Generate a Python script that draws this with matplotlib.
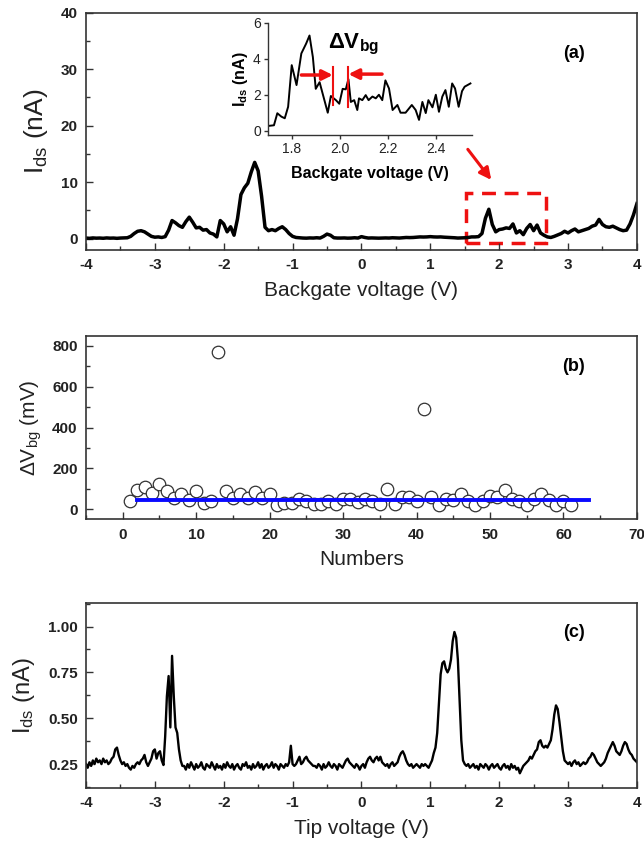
import numpy as np
import matplotlib
matplotlib.use('Agg')
import matplotlib.pyplot as plt
from matplotlib.ticker import MultipleLocator
from matplotlib.patches import Rectangle

plt.rcParams['font.family'] = ['Liberation Sans', 'DejaVu Sans']
plt.rcParams['mathtext.fontset'] = 'custom'
plt.rcParams['mathtext.rm'] = 'Liberation Sans'
plt.rcParams['mathtext.it'] = 'Liberation Sans:italic'
plt.rcParams['mathtext.bf'] = 'Liberation Sans:bold'
plt.rcParams['axes.unicode_minus'] = False

# ---------------- Panel (a): backgate sweep, Ids (nA), 0.05 V steps from -4 to 4 ----------------
backgate_ids = [
    0.10, 0.05, 0.12, 0.08, 0.10, 0.06, 0.12, 0.08, 0.10, 0.05, 0.10, 0.12, 0.15,
    0.4, 0.9, 1.3, 1.4, 1.2, 0.8, 0.4, 0.25, 0.3, 0.2, 0.35,
    1.5, 3.2, 2.8, 2.3, 2.0, 3.0, 3.8, 2.9, 1.9, 2.0, 1.5, 1.6, 1.0, 0.8, 0.3,
    3.2, 2.6, 1.2, 2.1, 0.6, 3.5, 7.8, 9.0, 9.8, 11.8, 13.5, 12.0, 7.5, 2.0, 1.4,
    1.6, 1.4, 1.8, 2.1, 1.6, 0.9, 0.4, 0.2,
    0.15, 0.10, 0.08, 0.12, 0.10, 0.15, 0.10,
    0.4, 0.8, 0.6, 0.15, 0.1,
    0.10, 0.12, 0.08, 0.10, 0.15, 0.10,
    0.35, 0.2, 0.1, 0.12, 0.1, 0.08, 0.1, 0.12, 0.1, 0.15,
    0.12, 0.1, 0.15, 0.2, 0.18, 0.2, 0.25, 0.3, 0.28, 0.3,
    0.35, 0.3, 0.28, 0.3, 0.25, 0.22, 0.2, 0.15, 0.1, 0.12, 0.15,
    0.2, 0.3, 0.3, 0.35, 0.9, 3.6, 5.2, 2.5, 1.2, 1.6,
    1.7, 1.9, 1.8, 2.6, 1.0, 1.4, 0.7, 1.8, 2.5, 1.4,
    2.4, 1.0, 0.6, 0.3, 0.2, 0.4, 0.65, 0.9, 1.3, 1.0,
    1.4, 1.7, 1.2, 1.4, 1.6, 1.8, 2.2, 2.4, 3.4, 2.5,
    2.1, 2.0, 2.2, 1.9, 1.6, 1.4, 1.5, 2.6, 4.2, 6.2,
]
backgate_v = np.linspace(-4, 4, len(backgate_ids))

# inset (zoom of 1.7-2.55 V)
inset_v = [1.700, 1.726, 1.740, 1.757, 1.771, 1.785, 1.800, 1.820, 1.840, 1.860,
           1.874, 1.888, 1.900, 1.916, 1.936, 1.950, 1.963, 1.984, 1.998, 2.012,
           2.025, 2.036, 2.046, 2.060, 2.073, 2.080, 2.094, 2.108, 2.120, 2.136,
           2.150, 2.163, 2.177, 2.190, 2.205, 2.220, 2.240, 2.253, 2.274, 2.300,
           2.316, 2.330, 2.344, 2.358, 2.369, 2.386, 2.400, 2.413, 2.427, 2.440,
           2.454, 2.468, 2.480, 2.495, 2.509, 2.520, 2.544]
inset_i = [0.26, 0.30, 0.97, 0.78, 0.69, 1.33, 3.65, 2.54, 4.30, 4.85,
           5.30, 4.10, 2.33, 2.70, 1.70, 1.00, 1.93, 1.70, 1.50, 2.33,
           2.30, 2.87, 1.60, 1.70, 1.15, 1.80, 1.70, 1.98, 1.70, 1.90,
           1.80, 2.00, 1.70, 2.80, 2.35, 1.15, 1.43, 1.00, 1.00, 1.43,
           1.15, 0.60, 1.60, 0.98, 1.70, 1.30, 2.00, 1.05, 1.90, 2.26,
           1.33, 2.63, 2.35, 1.33, 2.20, 2.45, 2.63]

# ---------------- Panel (b): Delta V_bg (mV) vs number ----------------
numbers = list(range(1, 62))
delta_vbg = [39, 92, 108, 80, 121, 90, 56, 74, 47, 90,
             29, 39, 772, 90, 56, 74, 56, 82, 56, 72,
             18, 31, 31, 51, 39, 26, 26, 39, 26, 51,
             51, 34, 51, 39, 26, 98, 26, 62, 59, 39,
             489, 59, 18, 51, 46, 72, 39, 18, 39, 64,
             59, 92, 51, 39, 18, 51, 72, 46, 18, 39, 21]
fit_n = [2, 63.5]
fit_dv = [45, 45]

# ---------------- Panel (c): tip sweep, Ids (nA), 0.025 V steps from -4 to 4 ----------------
tip_ids = [
    0.25, 0.23, 0.26, 0.24, 0.27, 0.25, 0.28, 0.26, 0.27, 0.25, 0.28, 0.26, 0.27, 0.25, 0.26, 0.28,
    0.29, 0.33, 0.34, 0.30, 0.27,
    0.25, 0.26, 0.24, 0.25, 0.23, 0.22, 0.24, 0.23, 0.25, 0.26, 0.25, 0.27,
    0.28, 0.30, 0.26, 0.24, 0.26, 0.28, 0.32, 0.33, 0.28, 0.31, 0.32, 0.27, 0.245,
    0.40, 0.62, 0.73, 0.45, 0.84, 0.62, 0.45, 0.42, 0.33, 0.27, 0.24,
    0.24, 0.22, 0.25, 0.23, 0.26, 0.24, 0.22, 0.25, 0.23, 0.24,
    0.26, 0.23, 0.22, 0.25, 0.24, 0.23, 0.26, 0.24, 0.22, 0.25,
    0.23, 0.24, 0.22, 0.25, 0.23, 0.26, 0.24, 0.23, 0.25, 0.22,
    0.24, 0.25, 0.23, 0.22, 0.25, 0.24, 0.26, 0.23, 0.24, 0.22,
    0.25, 0.23, 0.24, 0.26, 0.23, 0.25, 0.22, 0.24, 0.25, 0.23,
    0.24, 0.26, 0.23, 0.25, 0.24, 0.22, 0.25, 0.24, 0.23, 0.25,
    0.24, 0.26,
    0.35, 0.25, 0.24, 0.25, 0.27, 0.29, 0.25, 0.26, 0.28, 0.29, 0.27, 0.26, 0.25, 0.24,
    0.24, 0.23, 0.25, 0.24, 0.22, 0.25, 0.23, 0.24, 0.26, 0.24, 0.23, 0.25, 0.24, 0.22,
    0.25, 0.24, 0.23, 0.25,
    0.27, 0.28, 0.26, 0.25,
    0.24, 0.23, 0.25, 0.24, 0.22, 0.24, 0.25, 0.23,
    0.26, 0.28, 0.29, 0.27, 0.26, 0.28, 0.29, 0.27, 0.29, 0.26, 0.25,
    0.24, 0.25, 0.23, 0.25, 0.26, 0.24, 0.25,
    0.26, 0.29, 0.31, 0.32, 0.30, 0.27, 0.25,
    0.24, 0.25, 0.23, 0.24, 0.25, 0.24, 0.23, 0.25, 0.24, 0.25, 0.24, 0.23, 0.25,
    0.27, 0.31, 0.34, 0.42, 0.58, 0.74, 0.80, 0.81, 0.77, 0.75,
    0.77, 0.82, 0.92, 0.97, 0.94, 0.82, 0.60, 0.38, 0.27, 0.25,
    0.24, 0.25, 0.23, 0.24, 0.25, 0.23, 0.24, 0.22, 0.25, 0.24,
    0.23, 0.25, 0.24, 0.22, 0.24, 0.25, 0.23, 0.24, 0.25, 0.23,
    0.22, 0.24, 0.25, 0.23, 0.24, 0.22, 0.25, 0.23, 0.24, 0.22,
    0.23, 0.20, 0.22, 0.24,
    0.25, 0.26, 0.27, 0.29, 0.28, 0.30, 0.32, 0.33, 0.37, 0.38,
    0.35, 0.34, 0.35, 0.34, 0.36, 0.38, 0.44, 0.52, 0.57, 0.55,
    0.48, 0.40, 0.32, 0.27, 0.26,
    0.25, 0.26, 0.24, 0.26, 0.27, 0.25, 0.26, 0.24, 0.25, 0.26, 0.25, 0.26, 0.28,
    0.29, 0.31, 0.30, 0.28, 0.26, 0.25, 0.24, 0.25, 0.26, 0.28,
    0.31, 0.33, 0.35, 0.37, 0.35, 0.32, 0.31, 0.30, 0.32, 0.35,
    0.37, 0.36, 0.33, 0.31, 0.30, 0.28, 0.27, 0.26,
]
tip_v = np.linspace(-4, 4, len(tip_ids))

# ---------------- Figure ----------------
fig = plt.figure(figsize=(6.44, 8.5), dpi=100)
axa = fig.add_axes([0.1335, 0.706, 0.8555, 0.279])
axb = fig.add_axes([0.1335, 0.389, 0.8555, 0.216])
axc = fig.add_axes([0.1335, 0.073, 0.8555, 0.218])
ins = fig.add_axes([0.4157, 0.841, 0.317, 0.132])

SPINE = '#333333'


def style(ax):
    ax.tick_params(which='both', direction='in', top=False, right=False, colors=SPINE)
    ax.tick_params(which='major', length=5, width=1, labelsize=11, pad=6, labelcolor='#222222')
    ax.tick_params(which='minor', length=3, width=1)
    for s in ax.spines.values():
        s.set_linewidth(1.2)
        s.set_color(SPINE)
    for lab in ax.get_xticklabels() + ax.get_yticklabels():
        lab.set_fontweight('bold')


# (a)
axa.plot(backgate_v, backgate_ids, color='black', lw=2.5)
axa.set_xlim(-4, 4)
axa.set_ylim(-2, 40)
axa.xaxis.set_major_locator(MultipleLocator(1))
axa.xaxis.set_minor_locator(MultipleLocator(0.5))
axa.yaxis.set_major_locator(MultipleLocator(10))
axa.yaxis.set_minor_locator(MultipleLocator(5))
axa.set_xlabel('Backgate voltage (V)', fontsize=15, labelpad=6, color='#222222')
axa.set_ylabel(r'I$_{\mathrm{ds}}$ (nA)', fontsize=19, labelpad=8, color='#222222')
axa.text(0.885, 0.83, '(a)', transform=axa.transAxes, fontsize=13, fontweight='bold',
         ha='center', va='center')
axa.add_patch(Rectangle((1.52, -0.7), 1.16, 8.8, fill=False, edgecolor='#ee1111',
                        lw=2.5, linestyle=(0, (4, 2.5))))
axa.annotate('', xy=(1.91, 10.0), xytext=(1.52, 16.2),
             arrowprops=dict(arrowstyle='-|>,head_length=0.7,head_width=0.35',
                             color='#ee1111', lw=2.2))
style(axa)

# inset
ins.plot(inset_v, inset_i, color='black', lw=1.4)
ins.set_xlim(1.7, 2.55)
ins.set_ylim(-0.25, 6)
ins.set_xticks([1.8, 2.0, 2.2, 2.4])
ins.set_yticks([0, 2, 4, 6])
ins.spines['top'].set_visible(False)
ins.spines['right'].set_visible(False)
for s in ins.spines.values():
    s.set_linewidth(1.0)
    s.set_color(SPINE)
ins.tick_params(direction='out', length=3, width=1, labelsize=10, pad=2, colors=SPINE,
                labelcolor='#222222')
ins.patch.set_alpha(0)
ins.set_xlabel('Backgate voltage (V)', fontsize=11.5, fontweight='bold', labelpad=7)
ins.set_ylabel(r'$\mathbf{I_{ds}}$ (nA)', fontsize=11.5, fontweight='bold', labelpad=2)
ins.plot([1.971, 1.971], [1.43, 3.56], color='#ee1111', lw=1.5)
ins.plot([2.036, 2.036], [1.33, 3.56], color='#ee1111', lw=1.5)
ins.annotate('', xy=(1.971, 3.1), xytext=(1.84, 3.1),
             arrowprops=dict(arrowstyle='-|>,head_length=0.6,head_width=0.3',
                             color='#ee1111', lw=2.5, shrinkA=0, shrinkB=0))
ins.annotate('', xy=(2.036, 3.15), xytext=(2.176, 3.15),
             arrowprops=dict(arrowstyle='-|>,head_length=0.6,head_width=0.3',
                             color='#ee1111', lw=2.5, shrinkA=0, shrinkB=0))
ins.text(1.95, 4.8, r'ΔV$_{\mathbf{bg}}$', fontsize=16, fontweight='bold', ha='left', va='center')

# (b)
axb.plot(numbers, delta_vbg, linestyle='none', marker='o', ms=9, mfc='white',
         mec='#333333', mew=0.9, zorder=2)
axb.plot(fit_n, fit_dv, color='#0a0aff', lw=2.8, zorder=3)
axb.set_xlim(-5, 70)
axb.set_ylim(-50, 850)
axb.xaxis.set_major_locator(MultipleLocator(10))
axb.xaxis.set_minor_locator(MultipleLocator(5))
axb.yaxis.set_major_locator(MultipleLocator(200))
axb.yaxis.set_minor_locator(MultipleLocator(100))
axb.set_xlabel('Numbers', fontsize=15, labelpad=6, color='#222222')
axb.set_ylabel(r'ΔV$_{\mathrm{bg}}$ (mV)', fontsize=15, labelpad=6, color='#222222')
axb.text(0.885, 0.83, '(b)', transform=axb.transAxes, fontsize=13, fontweight='bold',
         ha='center', va='center')
style(axb)

# (c)
axc.plot(tip_v, tip_ids, color='black', lw=1.7)
axc.set_xlim(-4, 4)
axc.set_ylim(0.12, 1.13)
axc.xaxis.set_major_locator(MultipleLocator(1))
axc.xaxis.set_minor_locator(MultipleLocator(0.5))
axc.set_yticks([0.25, 0.50, 0.75, 1.00])
axc.set_yticklabels(['0.25', '0.50', '0.75', '1.00'])
axc.yaxis.set_minor_locator(MultipleLocator(0.125))
axc.set_xlabel('Tip voltage (V)', fontsize=15, labelpad=6, color='#222222')
axc.set_ylabel(r'I$_{\mathrm{ds}}$ (nA)', fontsize=17, labelpad=8, color='#222222')
axc.text(0.885, 0.84, '(c)', transform=axc.transAxes, fontsize=13, fontweight='bold',
         ha='center', va='center')
style(axc)

fig.savefig('out.png', dpi=100)
